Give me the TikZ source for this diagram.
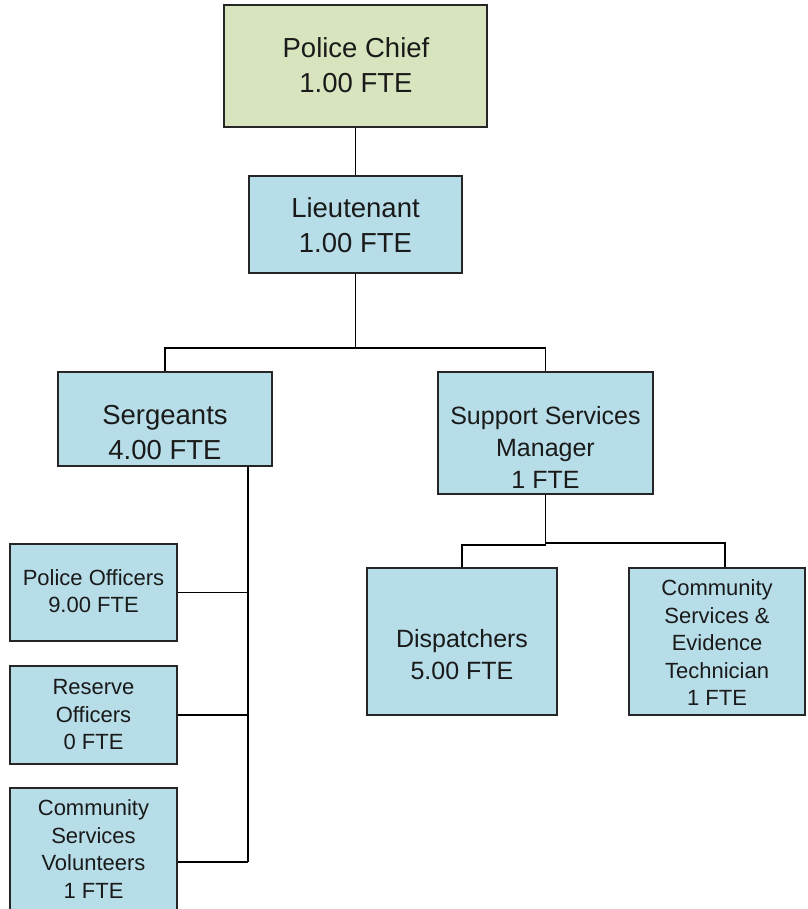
\documentclass[tikz,border=0pt]{standalone}
\usepackage{fontspec}
\setmainfont{Liberation Sans}
\definecolor{chieffill}{HTML}{D7E4BD}
\definecolor{boxfill}{HTML}{B7DEE8}
\definecolor{edgecol}{HTML}{262626}
\definecolor{txtcol}{HTML}{1A1A1A}
\begin{document}
\begin{tikzpicture}[x=1pt,y=-1pt,
  orgbox/.style={draw=edgecol, line width=2pt, fill=boxfill, rectangle, inner sep=0pt},
  bigtxt/.style={font=\fontsize{27.5}{35}\selectfont, align=center, inner sep=0pt, text=txtcol},
  midtxt/.style={font=\fontsize{25}{32}\selectfont, align=center, inner sep=0pt, text=txtcol},
  smalltxt/.style={font=\fontsize{22}{27.5}\selectfont, align=center, inner sep=0pt, text=txtcol},
  link/.style={line width=1.6pt, draw=black}
]
\useasboundingbox (0,0) rectangle (807,909);
\clip (0,0) rectangle (807,909);
\fill[white] (0,0) rectangle (807,909);

% boxes
\node[orgbox, fill=chieffill, minimum width=263pt, minimum height=122pt] (chief) at (355.5,66) {};
\node[orgbox, minimum width=213pt, minimum height=97pt] (lt) at (355.5,224.5) {};
\node[orgbox, minimum width=214pt, minimum height=94pt] (ser) at (165,419) {};
\node[orgbox, minimum width=215pt, minimum height=122pt] (ssm) at (545.5,433) {};
\node[orgbox, minimum width=167pt, minimum height=97pt] (po) at (93.5,592.5) {};
\node[orgbox, minimum width=167pt, minimum height=98pt] (ro) at (93.5,715) {};
\node[orgbox, minimum width=167pt, minimum height=148pt] (csv) at (93.5,862) {};
\node[orgbox, minimum width=190pt, minimum height=147pt] (disp) at (462,641.5) {};
\node[orgbox, minimum width=176pt, minimum height=147pt] (cset) at (717,641.5) {};

% texts
\node[bigtxt] (chieft) at (356,65) {Police Chief\\1.00 FTE};
\node[bigtxt] (ltt) at (355.5,225) {Lieutenant\\1.00 FTE};
\node[bigtxt] (sert) at (165,432.5) {Sergeants\\4.00 FTE};
\node[midtxt] (ssmt) at (545.5,447.5) {Support Services\\Manager\\1 FTE};
\node[midtxt] (dispt) at (462,655) {Dispatchers\\5.00 FTE};
\node[smalltxt] (pot) at (93.5,591) {Police Officers\\9.00 FTE};
\node[smalltxt] (rot) at (93.5,715) {Reserve\\Officers\\0 FTE};
\node[smalltxt] (csvt) at (93.5,849) {Community\\Services\\Volunteers\\1 FTE};
\node[smalltxt] (csett) at (717,643) {Community\\Services \&\\Evidence\\Technician\\1 FTE};

% connector junctions
\coordinate (sv) at (248,862);
\coordinate (cj) at (725,543);

% connectors
\draw[link] (chief.south) -- (lt.north);
\draw[link] (lt.south) -- ++(0,74) -| (ser.north);
\draw[link] (lt.south) -- ++(0,74) -| (ssm.north);
\draw[link] (sv |- ser.south) -- (sv);
\draw[link] (po.east) -- (po.east -| sv);
\draw[link] (ro.east) -- (ro.east -| sv);
\draw[link] (csv.east) -- (sv);
\draw[link] (ssm.south) -- ++(0,50) -| (disp.north);
\draw[link] (ssm.south) |- (cj) -- (cj |- cset.north);
\end{tikzpicture}
\end{document}
